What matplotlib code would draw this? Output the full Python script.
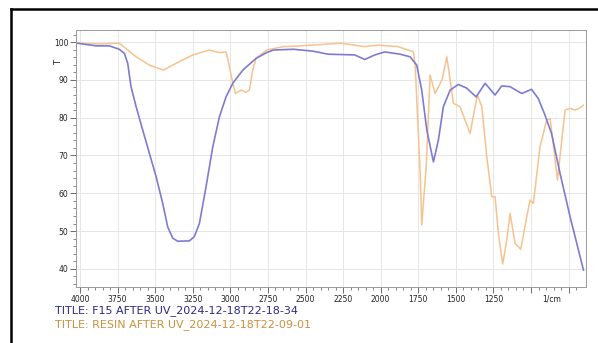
import matplotlib
matplotlib.use("Agg")
import matplotlib.pyplot as plt
from matplotlib.lines import Line2D
import numpy as np

# F15 after UV (blue)
f15_wn = [4018, 3894, 3805, 3739, 3705, 3683, 3661, 3627, 3583, 3539, 3494, 3450,
          3417, 3383, 3350, 3273, 3240, 3206, 3162, 3117, 3073, 3029, 2984, 2917,
          2829, 2760, 2714, 2581, 2450, 2350, 2172, 2106, 2039, 1973, 1871, 1804,
          1760, 1727, 1693, 1649, 1616, 1583, 1538, 1483, 1427, 1365, 1305, 1239,
          1195, 1139, 1062, 996, 952, 907, 863, 807, 740, 651]
f15_t = [99.7, 99.0, 99.0, 98.1, 97.0, 94.4, 88.2, 82.9, 76.7, 70.6, 64.4, 57.3,
         51.1, 48.1, 47.3, 47.4, 48.5, 52.0, 61.7, 72.3, 80.2, 85.5, 89.1, 92.6,
         95.7, 97.2, 97.9, 98.1, 97.6, 96.8, 96.6, 95.4, 96.6, 97.4, 96.8, 96.1,
         93.9, 87.3, 76.7, 68.3, 74.1, 82.9, 87.3, 88.8, 87.8, 85.5, 89.1, 86.0,
         88.4, 88.2, 86.4, 87.5, 85.1, 80.7, 75.8, 65.3, 53.8, 39.7]

# resin after UV (orange)
resin_wn = [4018, 3867, 3739, 3694, 3627, 3539, 3446, 3361, 3250, 3140, 3073, 3029,
            3011, 2984, 2967, 2929, 2896, 2873, 2851, 2829, 2758, 2647, 2536, 2262,
            2106, 2017, 1884, 1782, 1770, 1737, 1727, 1697, 1671, 1638, 1592, 1560,
            1516, 1472, 1405, 1357, 1327, 1294, 1261, 1239, 1217, 1188, 1161, 1139,
            1106, 1068, 1028, 1006, 984, 940, 895, 873, 847, 824, 807, 773, 740,
            707, 674, 651]
resin_t = [99.7, 99.5, 99.7, 98.3, 96.1, 93.9, 92.6, 94.4, 96.6, 97.9, 97.2, 97.4,
           94.4, 89.1, 86.4, 87.3, 86.7, 87.3, 92.6, 95.7, 97.9, 98.8, 99.0, 99.7,
           98.8, 99.2, 98.8, 97.4, 93.5, 65.3, 51.6, 67.0, 91.3, 86.4, 90.0, 96.1,
           83.8, 82.9, 75.8, 86.0, 82.9, 69.7, 59.1, 59.1, 49.4, 41.3, 47.6, 54.7,
           46.7, 45.2, 53.8, 58.2, 57.3, 72.3, 79.4, 79.8, 71.4, 63.5, 69.7, 82.0,
           82.5, 82.0, 82.6, 83.3]

f15_title = "TITLE: F15 AFTER UV_2024-12-18T22-18-34"
resin_title = "TITLE: RESIN AFTER UV_2024-12-18T22-09-01"

fig = plt.figure(figsize=(5.98, 3.43), dpi=100)
ax = fig.add_axes([76/598, 1 - 287/343, (586 - 76)/598, (287 - 30)/343])

ax.plot(resin_wn, resin_t, color='#f7c28e', lw=1.1)
ax.plot(f15_wn, f15_t, color='#7c7cd2', lw=1.2)

ax.set_xlim(4027, 634)
ax.set_ylim(35.2, 103.2)

major_x = np.arange(4000, 700, -250)
ax.set_xticks(major_x)
ax.set_xticks(np.arange(4000, 650, -50), minor=True)
ax.set_xticklabels([str(v) if v > 1000 else '' for v in major_x])
ax.set_yticks(np.arange(40, 101, 10))
ax.set_yticks(np.arange(36, 103, 2), minor=True)

ax.tick_params(axis='both', which='major', labelsize=5.5, length=4, width=0.6,
               color='#555555', labelcolor='#222222', pad=1.5)
ax.tick_params(axis='both', which='minor', length=2, width=0.5, color='#555555')
ax.grid(True, which='major', color='#e6e6e6', lw=0.7)
ax.set_axisbelow(True)
for s in ax.spines.values():
    s.set_color('#999999')
    s.set_linewidth(0.7)

ax.text(860, 33.2, '1/cm', ha='center', va='top', fontsize=5.5, color='#222222',
        clip_on=False)
ax.text(-0.035, 94.5, 'T', rotation=90, ha='center', va='center', fontsize=6,
        color='#222222', transform=ax.get_yaxis_transform())

fig.text(55/598, 1 - 311/343, f15_title, fontsize=8, color='#2b2b8a', va='center')
fig.text(55/598, 1 - 325/343, resin_title, fontsize=8, color='#c9913e', va='center')

# outer frame
fig.add_artist(Line2D([11/598, 1], [1 - 9/343, 1 - 9/343], color='black', lw=1.8,
                      transform=fig.transFigure))
fig.add_artist(Line2D([11/598, 11/598], [0, 1 - 9/343], color='black', lw=1.8,
                      transform=fig.transFigure))

fig.savefig('out.png', dpi=100)
